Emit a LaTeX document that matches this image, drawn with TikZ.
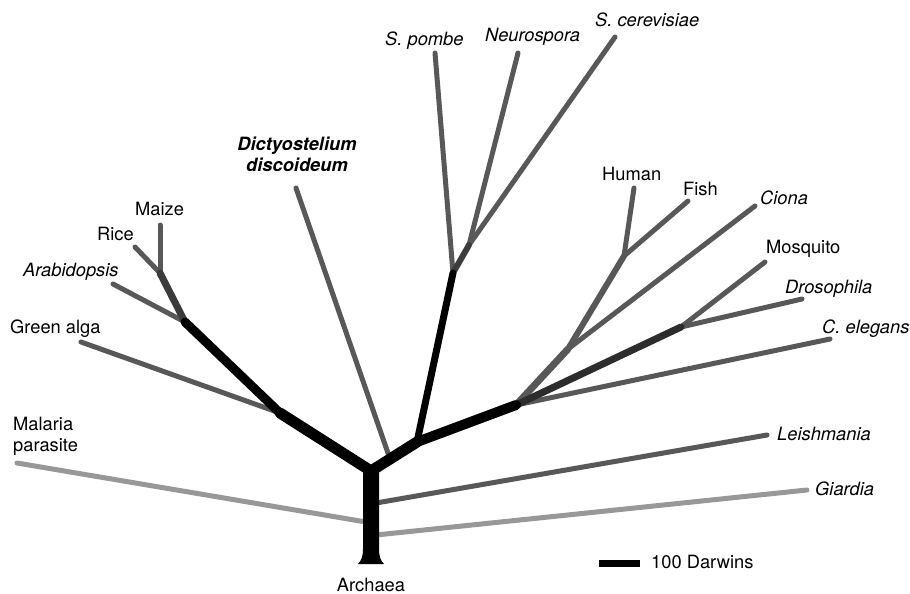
\documentclass[tikz,border=0pt]{standalone}
\usepackage{fontspec}
\setmainfont{TeX Gyre Heros}
\definecolor{leafgray}{RGB}{88,88,88}
\definecolor{palegray}{RGB}{152,152,152}
\definecolor{stemgray}{RGB}{60,60,60}
\definecolor{darkstem}{RGB}{45,45,45}
\tikzset{
  leaf/.style={draw=leafgray, line width=5pt, line cap=round},
  pale/.style={draw=palegray, line width=5pt, line cap=round},
  backbone/.style={draw=black, line cap=round, line join=round},
  lab/.style={inner sep=0pt, anchor=base west, font=\fontsize{18.3}{21}\selectfont},
  ilab/.style={inner sep=0pt, anchor=base west, font=\fontsize{18.3}{21}\selectfont\itshape},
}
\begin{document}
\begin{tikzpicture}[x=1pt,y=-1pt]
\useasboundingbox (0,0) rectangle (910,594);
\fill[white] (0,0) rectangle (910,594);
% junctions
\coordinate (R) at (371,471);
\coordinate (P1) at (280,413);
\coordinate (P2) at (185,322);
\coordinate (P3) at (160,273);
\coordinate (J1) at (417,442);
\coordinate (F) at (453,273);
\coordinate (F2) at (469,245);
\coordinate (A) at (516,405);
\coordinate (M) at (681,327);
\coordinate (D) at (568,349);
\coordinate (V) at (624,256);
\coordinate (Dk) at (389,456);
% leaf ends
\coordinate (maizeE) at (160,225);
\coordinate (riceE) at (135,247);
\coordinate (arabE) at (113,284);
\coordinate (algaE) at (81,342);
\coordinate (malE) at (17,463);
\coordinate (malB) at (366,522);
\coordinate (dictE) at (296,188);
\coordinate (pombeE) at (435,53);
\coordinate (neuroE) at (518,53);
\coordinate (cereE) at (615,37);
\coordinate (humanE) at (634,188);
\coordinate (fishE) at (688,201);
\coordinate (cionaE) at (755,206);
\coordinate (mosqE) at (765,262);
\coordinate (drosE) at (802,299);
\coordinate (celE) at (830,339);
\coordinate (leishE) at (767,435);
\coordinate (leishB) at (376,503);
\coordinate (giarE) at (807,490);
\coordinate (giarB) at (376,535);
\coordinate (sbL) at (599,563);
\coordinate (sbR) at (640,563);
% leaves
\draw[pale] (malE) -- (malB);
\draw[pale] (giarB) -- (giarE);
\draw[leaf] (leishB) -- (leishE);
\draw[leaf] (P1) -- (algaE);
\draw[leaf] (P2) -- (arabE);
\draw[leaf] (P3) -- (riceE);
\draw[leaf] (P3) -- (maizeE);
\draw[leaf] (Dk) -- (dictE);
\draw[leaf] (F) -- (pombeE);
\draw[leaf] (F2) -- (neuroE);
\draw[leaf] (F2) -- (cereE);
\draw[leaf] (A) -- (celE);
\draw[leaf] (M) -- (mosqE);
\draw[leaf] (M) -- (drosE);
\draw[leaf] (D) -- (cionaE);
\draw[leaf] (V) -- (humanE);
\draw[leaf] (V) -- (fishE);
\draw[leaf, line width=6pt] (D) -- (V);
\draw[leaf, line width=7pt] (A) -- (D);
% inner stems
\draw[draw=stemgray, line width=7pt, line cap=round] (P2) -- (P3);
\draw[draw=stemgray, line width=6pt, line cap=round] (F) -- (F2);
\draw[draw=darkstem, line width=7pt, line cap=round] (A) -- (M);
% backbone
\draw[backbone, line width=9pt] (P1) -- (P2);
\draw[backbone, line width=11pt] (R) -- (P1);
\draw[backbone, line width=11pt] (R) -- (J1);
\draw[backbone, line width=7pt] (J1) -- (F);
\draw[backbone, line width=10pt] (J1) -- (A);
% trunk
\fill[black] (363,470) -- (363,549) .. controls (363,557) and (361,561) .. (358,564)
  -- (384,564) .. controls (381,561) and (379,557) .. (379,549) -- (379,470) -- cycle;
% scale bar
\draw[line width=7pt] (sbL) -- (sbR);
% labels
\node[lab] (maize) at (135,215) {Maize};
\node[lab] (rice) at (97,240) {Rice};
\node[ilab] (arab) at (23,276) {Arabidopsis};
\node[lab] (alga) at (10,333) {Green alga};
\node[lab, align=left, anchor=north west] (mal) at (13,417) {Malaria\\parasite};
\node[inner sep=0pt, anchor=base, align=center, font=\fontsize{18.3}{21}\selectfont\bfseries\itshape] (dict) at (297,171) {Dictyostelium\\discoideum};
\node[ilab] (pombe) at (385,46) {S. pombe};
\node[ilab] (neuro) at (485,42) {Neurospora};
\node[ilab] (cere) at (595,27) {S. cerevisiae};
\node[lab] (human) at (602,180) {Human};
\node[lab] (fish) at (683,195) {Fish};
\node[ilab] (ciona) at (760,204) {Ciona};
\node[lab] (mosq) at (766,253) {Mosquito};
\node[ilab] (dros) at (785,293) {Drosophila};
\node[ilab] (cel) at (822,333) {C. elegans};
\node[ilab] (leish) at (777,440) {Leishmania};
\node[ilab] (giar) at (815,495) {Giardia};
\node[lab] (sb) at (651,568) {100 Darwins};
\node[lab, anchor=base] (arch) at (371,591) {Archaea};
\end{tikzpicture}
\end{document}
